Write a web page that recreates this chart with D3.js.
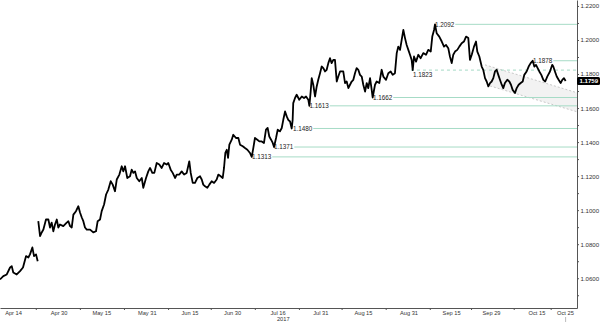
<!DOCTYPE html>
<html lang="en">
<head>
<meta charset="utf-8">
<title>EURUSD 2017</title>
<script src="https://cdn.jsdelivr.net/npm/d3@7"></script>
<style>
  body { margin: 0; background: #fff; }
  svg text { font-family: "Liberation Sans", Arial, sans-serif; }
</style>
</head>
<body>
<div id="chart"></div>
<script>
// price series (2017, UTC, "MM-DDTHH")
const times = [
  "04-09T10","04-10T14","04-11T19","04-12T23","04-13T13","04-14T02","04-15T07","04-16T11","04-17T12","04-18T14",
  "04-19T09","04-19T23","04-20T19","04-21T09","04-22T02","04-22T16","04-22T18","04-22T21","04-23T12","04-24T02",
  "04-24T16","04-25T14","04-26T10","04-27T00","04-27T14","04-28T04","04-28T18","04-29T09","04-29T22","04-30T12",
  "05-01T16","05-02T21","05-03T11","05-04T01","05-04T15","05-05T05","05-06T03","05-06T23","05-07T13","05-08T04",
  "05-08T17","05-09T07","05-09T22","05-11T02","05-12T05","05-13T04","05-13T18","05-14T14","05-15T04","05-16T00",
  "05-16T17","05-17T12","05-18T08","05-19T01","05-19T20","05-20T11","05-21T09","05-22T05","05-22T18","05-23T09",
  "05-24T04","05-25T03","05-25T17","05-26T07","05-26T21","05-27T12","05-28T09","05-29T06","05-29T19","05-30T18",
  "05-31T13","06-01T04","06-01T23","06-02T16","06-03T12","06-04T10","06-05T06","06-06T02","06-07T00","06-07T14",
  "06-08T10","06-09T03","06-09T23","06-10T13","06-11T11","06-12T07","06-13T03","06-14T01","06-14T23","06-15T11",
  "06-16T04","06-16T23","06-17T19","06-18T18","06-19T08","06-19T21","06-20T12","06-21T07","06-22T00","06-22T20",
  "06-23T16","06-24T14","06-25T04","06-26T00","06-26T17","06-27T04","06-27T15","06-28T03","06-28T14","06-29T01",
  "06-29T21","06-30T10","07-01T09","07-02T05","07-02T19","07-03T18","07-04T13","07-05T09","07-06T07","07-06T22",
  "07-07T11","07-08T01","07-08T21","07-09T14","07-10T10","07-11T05","07-11T22","07-12T12","07-13T02","07-13T17",
  "07-14T07","07-14T18","07-15T11","07-16T01","07-16T20","07-17T11","07-18T00","07-18T15","07-19T05","07-19T18",
  "07-20T09","07-20T23","07-21T07","07-21T12","07-22T03","07-22T17","07-23T15","07-24T12","07-25T07","07-26T00",
  "07-26T19","07-27T04","07-27T15","07-28T00","07-28T13","07-29T04","07-29T18","07-30T07","07-30T22","07-31T12",
  "08-01T02","08-01T16","08-02T06","08-02T20","08-03T10","08-04T00","08-04T14","08-05T04","08-05T19","08-06T08",
  "08-06T23","08-08T02","08-08T17","08-09T07","08-09T21","08-10T11","08-11T01","08-11T15","08-12T05","08-12T19",
  "08-13T09","08-13T23","08-14T14","08-15T03","08-15T18","08-16T08","08-16T21","08-17T12","08-18T02","08-18T10",
  "08-19T06","08-19T20","08-20T18","08-21T14","08-22T04","08-23T03","08-23T22","08-24T18","08-25T11","08-26T06",
  "08-26T21","08-27T10","08-28T01","08-28T15","08-29T05","08-29T19","08-30T09","08-30T23","08-31T13","09-01T03",
  "09-01T12","09-01T23","09-02T16","09-03T11","09-04T07","09-05T05","09-06T04","09-06T23","09-07T20","09-08T09",
  "09-09T00","09-09T08","09-09T22","09-10T20","09-11T17","09-12T12","09-13T05","09-14T00","09-14T14","09-15T05",
  "09-15T18","09-16T09","09-17T04","09-17T21","09-18T17","09-19T12","09-20T06","09-21T01","09-21T15","09-22T06",
  "09-23T01","09-23T18","09-24T05","09-24T22","09-25T18","09-26T07","09-26T22","09-27T12","09-28T02","09-28T16",
  "09-29T06","09-29T20","09-30T10","10-01T00","10-01T14","10-02T04","10-02T19","10-03T08","10-03T22","10-04T18",
  "10-05T11","10-06T01","10-06T15","10-07T11","10-08T01","10-08T18","10-09T11","10-10T04","10-10T17","10-11T13",
  "10-12T06","10-12T23","10-13T16","10-14T06","10-14T20","10-15T10","10-16T00","10-16T17","10-17T10","10-18T02",
  "10-18T19","10-19T18","10-20T13","10-20T22","10-21T12","10-22T03","10-22T19","10-23T12","10-24T02","10-24T16",
  "10-25T06"
];
const prices = [
  1.0593,1.0612,1.0622,1.0663,1.0671,1.0634,1.0622,1.0642,1.0663,1.0730,
  1.0722,1.0740,1.0781,1.0730,1.0740,1.0700,null,1.0935,1.0847,1.0869,
  1.0886,1.0945,1.0945,1.0898,1.0927,1.0876,1.0916,1.0945,1.0898,1.0916,
  1.0906,1.0927,1.0935,1.0906,1.0898,1.0974,1.0994,1.1023,1.0986,1.0957,
  1.0935,1.0898,1.0886,1.0886,1.0869,1.0876,1.0935,1.0945,1.0994,1.1033,
  1.1092,1.1121,1.1170,1.1150,1.1111,1.1180,1.1209,1.1258,1.1228,1.1258,
  1.1189,1.1199,1.1238,1.1219,1.1228,1.1189,1.1170,1.1189,1.1131,1.1189,
  1.1228,1.1248,1.1219,1.1219,1.1277,1.1268,1.1248,1.1277,1.1268,1.1277,
  1.1238,1.1219,1.1189,1.1209,1.1209,1.1228,1.1209,1.1219,1.1287,1.1219,
  1.1160,1.1160,1.1189,1.1199,1.1180,1.1150,1.1140,1.1131,1.1150,1.1170,
  1.1160,1.1180,1.1209,1.1199,1.1189,1.1248,1.1336,1.1355,1.1307,1.1385,
  1.1414,1.1443,1.1424,1.1424,1.1385,1.1375,1.1365,1.1355,1.1336,1.1313,
  1.1365,1.1424,1.1414,1.1404,1.1404,1.1395,1.1473,1.1483,1.1433,1.1414,
  1.1395,1.1371,1.1424,1.1473,1.1463,1.1483,1.1531,1.1580,1.1551,1.1531,
  1.1521,1.1480,1.1531,1.1629,1.1659,1.1678,1.1649,1.1668,1.1659,1.1668,
  1.1649,1.1613,1.1697,1.1776,1.1737,1.1668,1.1727,1.1766,1.1805,1.1844,
  1.1835,1.1815,1.1825,1.1864,1.1893,1.1864,1.1883,1.1883,1.1756,1.1785,
  1.1815,1.1815,1.1747,1.1756,1.1717,1.1737,1.1756,1.1766,1.1805,1.1835,
  1.1825,1.1795,1.1785,1.1737,1.1697,1.1747,1.1717,1.1776,1.1707,1.1662,
  1.1737,1.1756,1.1747,1.1825,1.1785,1.1766,1.1805,1.1815,1.1795,1.1805,
  1.1923,1.1961,1.1942,1.2001,1.2059,1.2011,1.1971,1.1942,1.1913,1.1883,
  1.1823,1.1903,1.1873,1.1913,1.1893,1.1923,1.1913,1.1942,1.1932,1.2020,
  1.2059,1.2092,1.2040,1.2020,1.1991,1.1961,1.1971,1.1952,1.1903,1.1864,
  1.1913,1.1932,1.1942,1.1961,1.1981,1.1991,1.2020,1.2011,1.1883,1.1913,
  1.1961,1.1991,1.1932,1.1903,1.1844,1.1825,1.1776,1.1756,1.1727,1.1747,
  1.1756,1.1776,1.1815,1.1825,1.1795,1.1766,1.1737,1.1717,1.1747,1.1766,
  1.1756,1.1737,1.1707,1.1688,1.1717,1.1737,1.1747,1.1756,1.1795,1.1815,
  1.1844,1.1864,1.1878,1.1844,1.1854,1.1835,1.1815,1.1795,1.1766,1.1756,
  1.1785,1.1815,1.1854,1.1844,1.1815,1.1785,1.1766,1.1747,1.1766,1.1776,
  1.1759
];

// marked levels and where their labels sit
const levels     = [1.2092, 1.1878, 1.1823, 1.1662, 1.1613, 1.1480, 1.1371, 1.1313];
const levelTimes = ["09-09T08","10-13T19","09-01T14","08-18T13","07-27T05","07-21T10","07-14T18","07-07T00"];
const dashedLevel = 1.1823;

// channel lines (upper, lower)
const trendFrom    = ["09-26T22", "09-28T16"];
const trendFromVal = [1.1854, 1.1730];
const trendTo      = "10-29T06";
const trendToVal   = [1.1690, 1.1578];

const lastPrice = 1.1759;

const yMajor = [1.06, 1.08, 1.10, 1.12, 1.14, 1.16, 1.18, 1.20, 1.22];
const yMinor = [1.05, 1.07, 1.09, 1.11, 1.13, 1.15, 1.17, 1.19, 1.21];
const xLabels = ["04-14","04-30","05-15","05-31","06-15","06-30","07-16","07-31","08-15","08-31","09-15","09-29","10-15","10-25"];
const yearLabel = "2017";
const xStart = "04-09T10", xEnd = "10-29T06";

const W = 600, H = 322, right = 577, bottom = 308;
const parse = d3.utcParse("%Y-%m-%dT%H");
const T = s => parse("2017-" + (s.length === 5 ? s + "T00" : s));

const x = d3.scaleUtc().domain([T(xStart), T(xEnd)]).range([0, right]);
const y = d3.scaleLinear().domain([1.0425, 1.2235]).range([bottom, 0]);

const svg = d3.select("#chart").append("svg").attr("width", W).attr("height", H);

const series = times.map((t, i) => ({t: T(t), v: prices[i]}));

// channel fill + dashed lines
const poly = [
  {t: T(trendFrom[0]), v: trendFromVal[0]},
  {t: T(trendTo), v: trendToVal[0]},
  {t: T(trendTo), v: trendToVal[1]},
  {t: T(trendFrom[1]), v: trendFromVal[1]}
];
const pl = d3.line().x(d => x(d.t)).y(d => y(d.v));
svg.append("path").attr("d", pl(poly) + "Z").attr("fill", "#f2f2f2");
for (let i = 0; i < 2; i++) {
  svg.append("line")
    .attr("x1", x(T(trendFrom[i]))).attr("y1", y(trendFromVal[i]))
    .attr("x2", x(T(trendTo))).attr("y2", y(trendToVal[i]))
    .attr("stroke", "#c8c8c8").attr("stroke-width", 1).attr("stroke-dasharray", "2,2");
}

// level lines and labels
const fmt = d3.format(".4f");
levels.forEach((lv, i) => {
  const lx = x(T(levelTimes[i])), ly = y(lv);
  if (lv === dashedLevel) {
    svg.append("line").attr("x1", lx - 2).attr("x2", right).attr("y1", ly).attr("y2", ly)
      .attr("stroke", "#a3d9c4").attr("stroke-width", 1).attr("stroke-dasharray", "3,3");
    svg.append("text").attr("x", lx).attr("y", ly + 7).attr("font-size", 6.3).attr("fill", "#222").text(fmt(lv));
  } else {
    const txt = svg.append("text").attr("x", lx).attr("y", ly + 2.2).attr("font-size", 6.3).attr("fill", "#222").text(fmt(lv));
    const w = txt.node().getComputedTextLength();
    svg.append("line").attr("x1", lx + w + 1).attr("x2", right).attr("y1", ly).attr("y2", ly)
      .attr("stroke", "#a6dbc6").attr("stroke-width", 1);
  }
});

// price line
const line = d3.line().defined(d => d.v != null).x(d => x(d.t)).y(d => y(d.v));
svg.append("path").datum(series).attr("d", line)
  .attr("fill", "none").attr("stroke", "#000").attr("stroke-width", 1.8).attr("stroke-linejoin", "round");

// y axis
const ya = svg.append("g").attr("transform", `translate(${right},0)`)
  .call(d3.axisRight(y).tickValues(yMajor).tickSize(2).tickSizeOuter(0).tickPadding(1.5).tickFormat(fmt));
svg.append("g").attr("transform", `translate(${right},0)`)
  .call(d3.axisRight(y).tickValues(yMinor).tickSize(2).tickFormat(""))
  .select(".domain").remove();

// x axis
const xa = svg.append("g").attr("transform", `translate(0,${bottom})`)
  .call(d3.axisBottom(x).tickValues(xLabels.map(T)).tickSize(0).tickSizeOuter(0).tickPadding(2.6).tickFormat(d3.utcFormat("%b %d")));
const mids = xLabels.slice(1).map((d, i) => new Date((T(xLabels[i]).getTime() + T(d).getTime()) / 2));
svg.append("g").attr("transform", `translate(0,${bottom})`)
  .call(d3.axisBottom(x).tickValues(mids).tickSize(2).tickFormat(""))
  .select(".domain").remove();

svg.selectAll(".domain").attr("stroke", "#555");
svg.selectAll(".tick line").attr("stroke", "#555");
svg.selectAll(".tick text").attr("font-size", 5.7).attr("fill", "#333").attr("font-family", "Liberation Sans, Arial, sans-serif");
ya.selectAll(".tick text").attr("font-size", 6.1);

svg.append("text").attr("x", x(T("07-18"))).attr("y", 320.5).attr("text-anchor", "middle")
  .attr("font-size", 5.7).attr("fill", "#333").text(yearLabel);

// last-date marker under the axis
const lastT = T(times[times.length - 1]);
svg.append("line").attr("x1", x(lastT)).attr("x2", x(lastT)).attr("y1", 317).attr("y2", H)
  .attr("stroke", "#bbb").attr("stroke-width", 1);

// last price tag
const ty = y(lastPrice);
svg.append("rect").attr("x", right).attr("y", ty - 4).attr("width", W - right).attr("height", 8)
  .attr("rx", 1.5).attr("fill", "#000");
svg.append("text").attr("x", right + 2.5).attr("y", ty + 2.2).attr("font-size", 6.1)
  .attr("font-weight", "bold").attr("fill", "#fff").text(fmt(lastPrice));
</script>
</body>
</html>
